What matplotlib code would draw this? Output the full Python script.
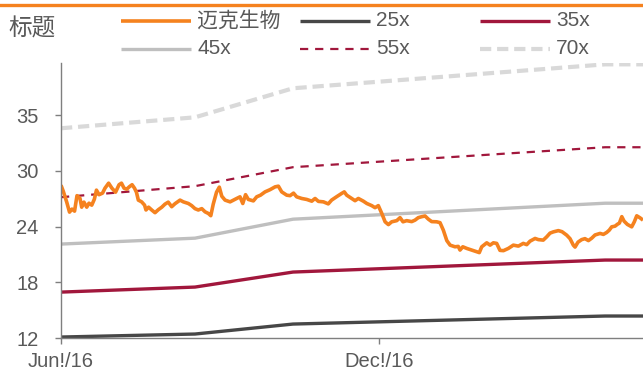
import numpy as np
import pandas as pd
import matplotlib
matplotlib.use("Agg")
import matplotlib.pyplot as plt
from matplotlib.lines import Line2D

plt.rcParams['font.family'] = ['Liberation Sans', 'Noto Sans CJK SC', 'DejaVu Sans']
cjk = ['Noto Sans CJK SC', 'DejaVu Sans']

start = pd.Timestamp("2016-06-01")

# share price, days after 2016-06-01
price_days = [0, 1.3, 3.3, 4.9, 6.3, 7.8, 9.2, 10.9, 11.9, 13.2, 14.8, 16.1, 17.7, 19.2, 20.4,
              21.9, 23.9, 25.3, 27.4, 29.3, 31.4, 33.4, 34.8, 36.3, 37.8, 39.4, 40.9, 42.3, 43.4,
              44.5, 46.4, 48.1, 48.9, 50.4, 52.2, 54.1, 56.0, 58.0, 59.8, 61.7, 63.7, 65.6, 68.5,
              70.4, 73.3, 75.2, 77.1, 79.0, 81.0, 82.9, 84.8, 86.2, 87.6, 89.5, 91.1, 92.5, 94.4,
              97.3, 99.2, 101.1, 103.0, 104.6, 106.2, 107.8, 110.7, 112.6, 114.8, 117.4, 120.3,
              123.2, 125.1, 127.0, 129.9, 131.8, 133.8, 135.6, 138.5, 141.4, 144.3, 146.2, 148.1,
              151.0, 153.8, 155.7, 158.5, 161.5, 163.0, 164.4, 167.3, 169.2, 171.1, 174.0, 176.0,
              178.8, 180.7, 182.6, 184.6, 186.5, 188.4, 190.3, 193.2, 195.1, 196.8, 198.9, 201.8,
              203.7, 205.6, 207.6, 209.5, 211.4, 213.3, 216.2, 218.1, 220.0, 222.0, 223.9, 226.7,
              228.6, 229.6, 231.2, 233.5, 236.3, 239.2, 240.7, 242.1, 245.0, 246.9, 248.8, 250.7,
              252.6, 254.6, 257.4, 260.3, 263.2, 266.0, 268.0, 269.9, 272.8, 274.7, 277.5, 279.5,
              281.4, 283.3, 286.2, 288.3, 291.0, 292.9, 294.8, 295.8, 297.5, 299.6, 301.5, 303.5,
              305.4, 307.3, 310.2, 312.1, 314.0, 315.5, 316.9, 318.8, 320.3, 321.3, 322.7, 324.0,
              325.9, 328.4, 329.9, 331.3, 333.2, 334.9]
price = [27.78, 27.16, 26.03, 25.00, 25.31, 25.10, 26.70, 26.44, 25.51, 26.03, 25.51, 25.92, 25.72,
         26.34, 27.27, 26.80, 26.96, 27.47, 27.99, 27.47, 27.06, 27.83, 27.99, 27.47, 27.37, 27.63,
         27.83, 27.47, 27.06, 26.24, 26.06, 25.72, 25.22, 25.51, 25.22, 24.94, 25.25, 25.51, 25.82,
         26.03, 25.56, 25.87, 26.24, 26.06, 25.89, 25.67, 25.36, 25.22, 25.36, 25.03, 24.86, 24.63,
         25.82, 27.06, 27.58, 26.65, 26.24, 26.06, 26.24, 26.41, 26.58, 25.89, 26.80, 26.31, 26.16,
         26.58, 26.75, 27.09, 27.32, 27.61, 27.68, 27.09, 26.75, 26.70, 26.96, 26.58, 26.41, 26.31,
         26.13, 26.41, 26.11, 26.06, 25.85, 26.24, 26.58, 26.93, 27.09, 26.75, 26.41, 26.18, 26.41,
         26.13, 25.89, 25.67, 25.46, 25.67, 24.86, 24.00, 23.71, 24.00, 24.12, 24.43, 24.00, 24.12,
         24.02, 24.17, 24.43, 24.53, 24.60, 24.27, 24.02, 24.00, 23.91, 23.14, 22.06, 21.59, 21.42,
         21.46, 21.08, 21.42, 21.25, 21.08, 20.90, 20.82, 21.42, 21.83, 21.59, 21.83, 21.77, 21.05,
         21.02, 21.25, 21.59, 21.49, 21.77, 21.64, 22.00, 22.28, 22.16, 22.11, 22.45, 22.83, 22.96,
         23.09, 22.98, 22.62, 22.26, 21.59, 21.39, 21.90, 22.16, 22.26, 22.06, 22.31, 22.64, 22.80,
         22.70, 22.90, 23.14, 23.48, 23.55, 23.76, 23.86, 24.53, 24.07, 23.73, 23.48, 24.00, 24.62,
         24.41, 24.17]

# PE band nodes
band_days = [0, 77.1, 133.5, 313.1, 334.9]
pe25 = [12.10, 12.41, 13.44, 14.27, 14.27]
pe35 = [16.74, 17.26, 18.81, 20.05, 20.05]
pe45 = [21.70, 22.31, 24.27, 25.92, 25.92]
pe55 = [26.54, 27.68, 29.64, 31.70, 31.70]
pe70 = [33.66, 34.79, 37.79, 40.26, 40.26]

ytick_pos = [12, 17.75, 23.5, 29.25, 35]
ytick_labels = ["12", "18", "24", "30", "35"]
xtick_dates = ["2016-06-01", "2016-12-01"]
xtick_labels = ["Jun!/16", "Dec!/16"]

price_x = start + pd.to_timedelta(price_days, unit="D")
band_x = start + pd.to_timedelta(band_days, unit="D")

txt = "#595959"
styles = [
    ("迈克生物", price_x, price, dict(color="#F5821F", lw=2.6, ls="-")),
    ("25x", band_x, pe25, dict(color="#474747", lw=2.4, ls="-")),
    ("35x", band_x, pe35, dict(color="#A1173C", lw=2.4, ls="-")),
    ("45x", band_x, pe45, dict(color="#BFBFBF", lw=2.4, ls="-")),
    ("55x", band_x, pe55, dict(color="#A1173C", lw=1.6, ls=(0, (3.7, 3.1)))),
    ("70x", band_x, pe70, dict(color="#D9D9D9", lw=3.0, ls=(0, (2.7, 1.4)))),
]

fig = plt.figure(figsize=(6.43, 3.76), dpi=100)
ax = fig.add_axes([61 / 643, 1 - 338 / 376, 1 - 61 / 643, 275 / 376])

# draw bands first, price on top
for name, x, y, st in styles[1:] + styles[:1]:
    ax.plot(x, y, solid_capstyle="butt", **st)

ax.set_xlim(start, start + pd.Timedelta(days=334.9))
ax.set_ylim(12, 40.4)
ax.set_yticks(ytick_pos)
ax.set_yticklabels(ytick_labels)
ax.set_xticks(pd.to_datetime(xtick_dates))
ax.set_xticklabels(xtick_labels)
ax.tick_params(axis="both", colors="#7f7f7f", labelcolor=txt, labelsize=14.5, length=4, width=1)
ax.tick_params(axis="y", pad=12)
ax.tick_params(axis="x", pad=6)
for s in ["top", "right"]:
    ax.spines[s].set_visible(False)
for s in ["left", "bottom"]:
    ax.spines[s].set_color("#7f7f7f")
    ax.spines[s].set_linewidth(1)

# header bar and title
fig.add_artist(Line2D([0, 1], [1 - 5 / 376, 1 - 5 / 376], color="#F5821F", lw=2.4,
                      transform=fig.transFigure))
fig.text(8 / 643, 1 - 29 / 376, "标题", fontsize=17, color=txt, va="center", ha="left",
         family=cjk)

# legend laid out like the source (3 columns, 2 rows)
col_x = [121, 300, 480]
row_y = [20.5, 49]
for i, (name, x, y, st) in enumerate(styles):
    cx = col_x[i % 3]
    ry = 1 - row_y[i // 3] / 376
    fig.add_artist(Line2D([cx / 643, (cx + 70) / 643], [ry, ry], transform=fig.transFigure,
                          solid_capstyle="butt", **st))
    fig.text((cx + 76) / 643, ry, name, fontsize=15, color=txt, va="center", ha="left",
             family=cjk if i == 0 else None)

fig.savefig("out.png", dpi=100)
